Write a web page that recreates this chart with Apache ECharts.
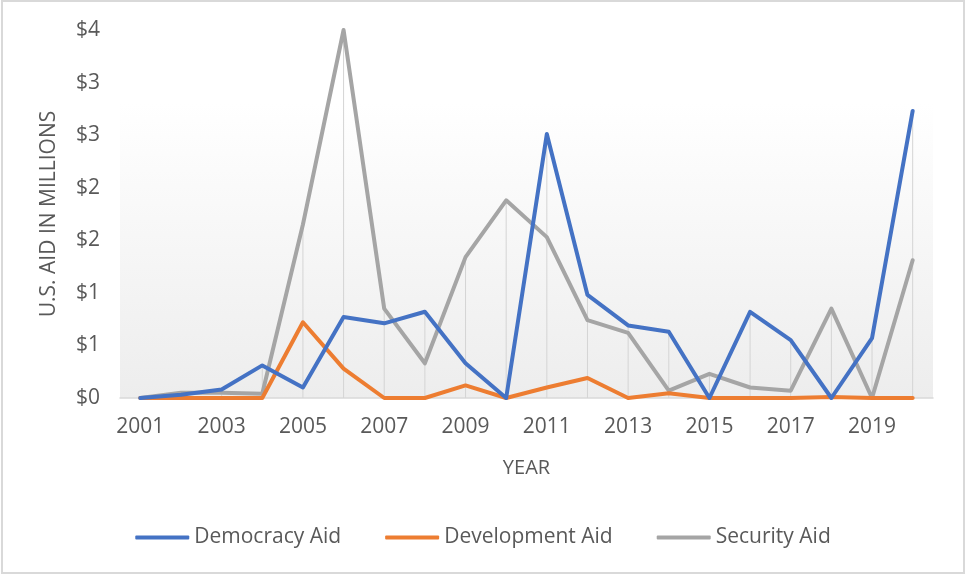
<!DOCTYPE html>
<html>
<head>
<meta charset="utf-8">
<script src="https://cdn.jsdelivr.net/npm/echarts@6/dist/echarts.min.js"></script>
<style>
  html, body { margin: 0; padding: 0; background: #ffffff; }
  #chart { width: 966px; height: 575px; }
</style>
</head>
<body>
<div id="chart"></div>
<script>
// U.S. aid by year, in millions of dollars
const years = ['2001','2002','2003','2004','2005','2006','2007','2008','2009','2010',
               '2011','2012','2013','2014','2015','2016','2017','2018','2019','2020'];
const democracyAid   = [0, 0.03, 0.08, 0.31, 0.10, 0.77, 0.71, 0.82, 0.33, 0,
                        2.51, 0.98, 0.69, 0.63, 0, 0.82, 0.55, 0, 0.57, 2.73];
const developmentAid = [0, 0, 0, 0, 0.72, 0.28, 0, 0, 0.12, 0,
                        0.10, 0.19, 0, 0.045, 0, 0, 0, 0.01, 0, 0];
const securityAid    = [0, 0.05, 0.05, 0.04, 1.65, 3.5, 0.85, 0.33, 1.34, 1.88,
                        1.53, 0.74, 0.62, 0.07, 0.23, 0.10, 0.07, 0.85, 0, 1.31];
const seriesNames = ['Democracy Aid', 'Development Aid', 'Security Aid'];

// drop lines run from the highest of the three series down to the axis
const dropLines = years.map((_, i) => Math.max(democracyAid[i], developmentAid[i], securityAid[i]));

const FONT = 'Open Sans';
const TEXT = '#595959';

const chart = echarts.init(document.getElementById('chart'), null, { renderer: 'canvas' });
chart.setOption({
  backgroundColor: '#ffffff',
  animation: false,
  textStyle: { fontFamily: FONT },
  graphic: [{
    type: 'rect',
    shape: { x: 2, y: 1, width: 962, height: 572 },
    style: { fill: 'none', stroke: '#d9d9d9', lineWidth: 2 },
    silent: true,
    z: -1
  }],
  grid: {
    left: 120, right: 33, top: 30, bottom: 177,
    show: true,
    borderWidth: 0,
    backgroundColor: {
      type: 'linear', x: 0, y: 0, x2: 0, y2: 1,
      colorStops: [
        { offset: 0, color: '#ffffff' },
        { offset: 0.2, color: '#ffffff' },
        { offset: 1, color: '#ededed' }
      ]
    }
  },
  legend: {
    data: seriesNames,
    bottom: 22,
    left: 'center',
    icon: 'roundRect',
    itemWidth: 54,
    itemHeight: 4,
    itemGap: 44,
    textStyle: { color: TEXT, fontSize: 21, fontFamily: FONT, padding: [0, 0, 0, 0] }
  },
  xAxis: {
    type: 'category',
    data: years,
    boundaryGap: true,
    name: 'YEAR',
    nameLocation: 'middle',
    nameGap: 60,
    nameTextStyle: { color: TEXT, fontSize: 20, fontFamily: FONT },
    axisLine: { show: true, lineStyle: { color: '#d9d9d9', width: 1.5 } },
    axisTick: { show: false },
    axisLabel: { interval: 1, color: TEXT, fontSize: 21, fontFamily: FONT, margin: 19 },
    splitLine: { show: false }
  },
  yAxis: {
    type: 'value',
    min: 0, max: 3.5, interval: 0.5,
    name: 'U.S. AID IN MILLIONS',
    nameLocation: 'middle',
    nameGap: 60,
    nameRotate: 90,
    nameTextStyle: { color: TEXT, fontSize: 21, fontFamily: FONT },
    axisLine: { show: false },
    axisTick: { show: false },
    splitLine: { show: false },
    axisLabel: {
      color: TEXT, fontSize: 21, fontFamily: FONT, margin: 20,
      formatter: v => '$' + Math.round(v)
    }
  },
  series: [
    {
      name: 'drop',
      type: 'bar',
      data: dropLines,
      barWidth: 1,
      itemStyle: { color: '#d4d4d4' },
      silent: true,
      z: 1
    },
    {
      name: seriesNames[0], type: 'line', data: democracyAid,
      showSymbol: false, symbol: 'none', z: 4,
      lineStyle: { color: '#4472C4', width: 4, join: 'round', cap: 'round' },
      itemStyle: { color: '#4472C4' }
    },
    {
      name: seriesNames[1], type: 'line', data: developmentAid,
      showSymbol: false, symbol: 'none', z: 3,
      lineStyle: { color: '#ED7D31', width: 4, join: 'round', cap: 'round' },
      itemStyle: { color: '#ED7D31' }
    },
    {
      name: seriesNames[2], type: 'line', data: securityAid,
      showSymbol: false, symbol: 'none', z: 2,
      lineStyle: { color: '#A5A5A5', width: 4, join: 'round', cap: 'round' },
      itemStyle: { color: '#A5A5A5' }
    }
  ]
});
</script>
</body>
</html>
